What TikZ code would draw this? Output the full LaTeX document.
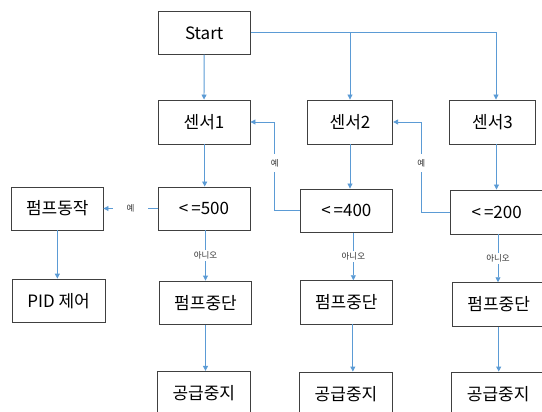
\documentclass[tikz,border=0pt]{standalone}
\usepackage{fontspec}
\setmainfont{Noto Sans CJK KR}
\usetikzlibrary{arrows.meta,calc}
\definecolor{boxgray}{HTML}{404040}
\definecolor{lineblue}{HTML}{5B9BD5}
\tikzset{
  box/.style={draw=boxgray, line width=0.9pt, inner sep=0pt, anchor=center, font=\fontsize{17}{20}\selectfont, text=black},
  arr/.style={draw=lineblue, line width=0.9pt, -{Triangle[length=5pt,width=5pt]}},
  lbl/.style={fill=white, font=\fontsize{8.5}{10}\selectfont, text=black!80, inner sep=1.5pt},
  yesv/.style={fill=white, font=\fontsize{8.5}{10}\selectfont, text=black!80, inner xsep=2pt, inner ysep=5.5pt},
  yesh/.style={fill=white, font=\fontsize{8.5}{10}\selectfont, text=black!80, inner xsep=13.5pt, inner ysep=2pt}
}
\begin{document}
\begin{tikzpicture}[x=1pt,y=-1pt]
\useasboundingbox (0,0) rectangle (542,412);
\clip (0,0) rectangle (542,412);
% nodes
\node[box, minimum width=92.3pt, minimum height=43pt] (start) at (204.15,32.8) {Start};
\node[box, minimum width=92pt, minimum height=44pt] (s1) at (204,122) {센서1};
\node[box, minimum width=85.4pt, minimum height=44pt] (s2) at (350,122) {센서2};
\node[box, minimum width=85.6pt, minimum height=44pt] (s3) at (492.5,122) {센서3};
\node[box, minimum width=92pt, minimum height=43pt] (c1) at (204,208.5) {<\kern3pt=500};
\node[box, minimum width=92.7pt, minimum height=43.7pt] (c2) at (346.35,210.85) {<\kern3pt=400};
\node[box, minimum width=92pt, minimum height=44pt] (c3) at (496.7,212) {<\kern3pt=200};
\node[box, minimum width=91.3pt, minimum height=43pt] (pump) at (57.35,208.5) {펌프동작};
\node[box, minimum width=93pt, minimum height=43.5pt] (pid) at (58.6,300.8) {PID 제어};
\node[box, minimum width=92.4pt, minimum height=43.7pt] (p1) at (205.5,302.85) {펌프중단};
\node[box, minimum width=92.7pt, minimum height=43.3pt] (p2) at (346.35,302.35) {펌프중단};
\node[box, minimum width=92pt, minimum height=43.6pt] (p3) at (498.7,304.5) {펌프중단};
\node[box, minimum width=93pt, minimum height=44.4pt] (g1) at (203.8,393.5) {공급중지};
\node[box, minimum width=93.4pt, minimum height=44pt] (g2) at (346,394) {공급중지};
\node[box, minimum width=93pt, minimum height=44pt] (g3) at (498.2,394) {공급중지};
% connectors from Start
\draw[arr] (start) -- (s1);
\draw[arr] (start.east) -| ([xshift=3.5pt]s3.north);
\draw[arr] (start.east -| s2.north) -- (s2.north);
% sensors to comparisons
\draw[arr] ([xshift=0.7pt]s1.south) -- ([xshift=0.7pt]s1.south |- c1.north);
\draw[arr] (s2.south) -- (s2.south |- c2.north);
\draw[arr] ([xshift=4pt]s3.south) -- ([xshift=4pt]s3.south |- c3.north);
% yes branches
\draw[arr] (c1.west) -- node[midway, yesh] {예} (pump.east |- c1.west);
\draw[arr] (c2.west) -- ++(-24.7,0) |- node[pos=0.27, yesv] {예} (s1.east);
\draw[arr] (c3.west) -- ++(-29,0) |- node[pos=0.272, yesv] {예} (s2.east);
% no branches
\draw[arr] (c1.south -| p1.north) -- node[midway, lbl] {아니오} (p1.north);
\draw[arr] ([xshift=7pt]c2.south) -- node[midway, lbl] {아니오} ([xshift=7pt]c2.south |- p2.north);
\draw[arr] ([xshift=1.3pt]c3.south) -- node[midway, lbl] {아니오} ([xshift=1.3pt]c3.south |- p3.north);
% downstream
\draw[arr] (pump.south) -- (pump.south |- pid.north);
\draw[arr] (p1.south) -- (p1.south |- g1.north);
\draw[arr] ([xshift=6.5pt]p2.south) -- ([xshift=6.5pt]p2.south |- g2.north);
\draw[arr] (p3.south) -- (p3.south |- g3.north);
\end{tikzpicture}
\end{document}
